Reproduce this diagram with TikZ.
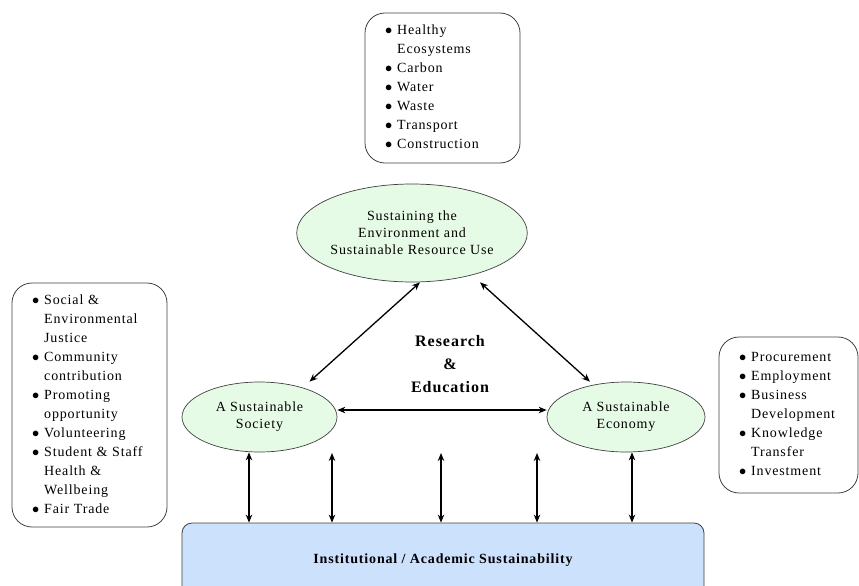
\documentclass[tikz,border=0pt]{standalone}
\usepackage{fontspec}
\setmainfont{Liberation Serif}[LetterSpace=6]
\usetikzlibrary{arrows.meta, shapes.geometric}
\definecolor{ellgreen}{RGB}{230,251,230}
\definecolor{instblue}{RGB}{204,225,251}

\begin{document}
\begin{tikzpicture}[x=1pt, y=-1pt,
    every node/.style={font=\fontsize{14}{19}\selectfont},
    listbox/.style={draw=black!75, line width=0.8pt, rounded corners=20pt,
        inner xsep=20pt, inner ysep=0pt, align=left},
    area/.style={ellipse, draw=black!75, line width=0.7pt, fill=ellgreen,
        inner sep=0pt, align=center, font=\fontsize{14}{17}\selectfont},
    link/.style={<->, >={Stealth[length=8pt, width=6.5pt]}, line width=1.3pt}]
    \clip (0,0) rectangle (859,586);

    % Lists
    \node[listbox, text width=115, minimum height=150] (envlist) at (442.5,88) {%
        \begin{tabular}{@{}l@{\hspace{5pt}}l@{}}
        $\bullet$ & Healthy\\
                  & Ecosystems\\
        $\bullet$ & Carbon\\
        $\bullet$ & Water\\
        $\bullet$ & Waste\\
        $\bullet$ & Transport\\
        $\bullet$ & Construction
        \end{tabular}};
    \node[listbox, text width=115, minimum height=244] (soclist) at (89.5,405) {%
        \begin{tabular}{@{}l@{\hspace{5pt}}l@{}}
        $\bullet$ & Social \&\\
                  & Environmental\\
                  & Justice\\
        $\bullet$ & Community\\
                  & contribution\\
        $\bullet$ & Promoting\\
                  & opportunity\\
        $\bullet$ & Volunteering\\
        $\bullet$ & Student \& Staff\\
                  & Health \&\\
                  & Wellbeing\\
        $\bullet$ & Fair Trade
        \end{tabular}};
    \node[listbox, text width=99, minimum height=156] (ecolist) at (788.5,415) {%
        \begin{tabular}{@{}l@{\hspace{5pt}}l@{}}
        $\bullet$ & Procurement\\
        $\bullet$ & Employment\\
        $\bullet$ & Business\\
                  & Development\\
        $\bullet$ & Knowledge\\
                  & Transfer\\
        $\bullet$ & Investment
        \end{tabular}};

    % Areas
    \node[area, minimum width=212, minimum height=98] (env) at (412,233)
        {Sustaining the\\Environment and\\Sustainable Resource Use};
    \node[area, minimum width=155, minimum height=70] (soc) at (259.5,417)
        {A Sustainable\\Society};
    \node[area, minimum width=158, minimum height=70] (eco) at (626,417)
        {A Sustainable\\Economy};
    \node[font=\fontsize{16}{23}\selectfont\bfseries, align=center] (rne) at (450,364)
        {Research\\\&\\Education};
    \node[draw=black!75, line width=0.8pt, rounded corners=10pt, fill=instblue,
        minimum width=522, minimum height=74,
        font=\fontsize{14}{19}\selectfont\bfseries] (inst) at (443,560)
        {Institutional / Academic Sustainability};

    % Paths
    \draw[link] ([xshift=8pt]env.south) -- ([xshift=50pt]soc.north);
    \draw[link] ([xshift=68pt]env.south) -- ([xshift=-36pt]eco.north);
    \draw[link] ([yshift=7pt]soc.east) -- ([yshift=7pt]eco.west);

    \coordinate (a1) at ([xshift=-10.5pt]soc.south);
    \coordinate (a2) at (332,453);
    \coordinate (a3) at (441,453);
    \coordinate (a4) at (537,453);
    \coordinate (a5) at ([xshift=6pt]eco.south);
    \foreach \a in {a1,a2,a3,a4,a5}
        \draw[link] (\a) -- (\a |- inst.north);
\end{tikzpicture}
\end{document}
